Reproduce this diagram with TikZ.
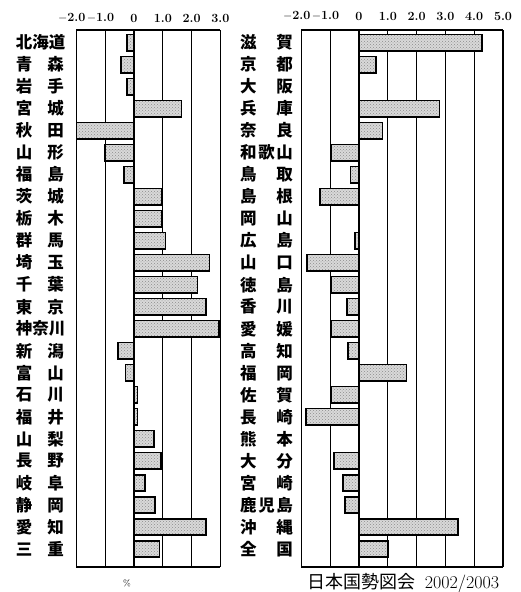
\documentclass[tikz,border=0pt]{standalone}
\usepackage{fontspec}
\newfontfamily\jpfont{Noto Sans CJK JP}
\usetikzlibrary{patterns}

\begin{document}
\begin{tikzpicture}[x=1pt, y=-1pt,
    gridline/.style={line width=1.3pt},
    zeroline/.style={line width=2.2pt},
    frameline/.style={line width=1.8pt},
    bar/.style={draw, line width=1.6pt, preaction={fill=gray!30}, pattern=crosshatch dots, pattern color=gray!90},
    pref/.style={font=\jpfont\bfseries\fontsize{16.5}{16.5}\selectfont, inner sep=0pt},
    ticklabel/.style={font=\bfseries\fontsize{12.5}{12.5}\selectfont, inner sep=0pt}]

    \useasboundingbox (0,0) rectangle (520,592);

    % left panel: grid and frame
    \foreach \v in {-2,-1,1,2,3}
        \draw[gridline] ({134+28.8*\v},30) -- ({134+28.8*\v},567);
    \draw[zeroline] (134,30) -- (134,567);
    \draw[frameline] (76,30) -- (220,30);
    \draw[frameline] (76,567) -- (220,567);
    \foreach \v/\t [count=\k] in {-2/{\llap{$-$}2.0}, -1/{\llap{$-$}1.0}, 0/0, 1/1.0, 2/2.0, 3/3.0}
        \node[ticklabel] (lt\k) at ({134+28.8*\v},18) {\t};

    % right panel: grid and frame
    \foreach \v in {-2,-1,1,2,3,4,5}
        \draw[gridline] ({359+28.8*\v},30) -- ({359+28.8*\v},567);
    \draw[zeroline] (359,30) -- (359,567);
    \draw[frameline] (301.4,30) -- (503,30);
    \draw[frameline] (301.4,567) -- (503,567);
    \foreach \v/\t [count=\k] in {-2/{\llap{$-$}2.0}, -1/{\llap{$-$}1.0}, 0/0, 1/1.0, 2/2.0, 3/3.0, 4/4.0, 5/5.0}
        \node[ticklabel] (rt\k) at ({359+28.8*\v},16) {\t};

    % left panel: prefectures and bars
    \foreach \name/\val [count=\i from 0] in {
        {北\hfill 海\hfill 道}/-0.25, {青\hfill 森}/-0.45, {岩\hfill 手}/-0.25,
        {宮\hfill 城}/1.65, {秋\hfill 田}/-2.0, {山\hfill 形}/-1.0,
        {福\hfill 島}/-0.35, {茨\hfill 城}/0.96, {栃\hfill 木}/0.96,
        {群\hfill 馬}/1.1, {埼\hfill 玉}/2.62, {千\hfill 葉}/2.2,
        {東\hfill 京}/2.5, {神\hfill 奈\hfill 川}/2.96, {新\hfill 潟}/-0.55,
        {富\hfill 山}/-0.3, {石\hfill 川}/0.12, {福\hfill 井}/0.12,
        {山\hfill 梨}/0.7, {長\hfill 野}/0.94, {岐\hfill 阜}/0.38,
        {静\hfill 岡}/0.73, {愛\hfill 知}/2.5, {三\hfill 重}/0.88} {
        \pgfmathsetmacro{\y}{42.5+22.02*\i}
        \node[pref] (lp\i) at (40,\y) {\hbox to 48pt{\name}};
        \draw[bar] (134,\y-8.2) rectangle ({134+28.8*\val},\y+8.2);
    }

    % right panel: prefectures and bars
    \foreach \name/\val [count=\i from 0] in {
        {滋\hfill 賀}/4.28, {京\hfill 都}/0.58, {大\hfill 阪}/0,
        {兵\hfill 庫}/2.8, {奈\hfill 良}/0.82, {和\hfill 歌\hfill 山}/-0.97,
        {鳥\hfill 取}/-0.29, {島\hfill 根}/-1.35, {岡\hfill 山}/0,
        {広\hfill 島}/-0.14, {山\hfill 口}/-1.8, {徳\hfill 島}/-0.98,
        {香\hfill 川}/-0.42, {愛\hfill 媛}/-0.98, {高\hfill 知}/-0.38,
        {福\hfill 岡}/1.65, {佐\hfill 賀}/-0.97, {長\hfill 崎}/-1.83,
        {熊\hfill 本}/0, {大\hfill 分}/-0.86, {宮\hfill 崎}/-0.56,
        {鹿\hfill 児\hfill 島}/-0.48, {沖\hfill 縄}/3.44, {全\hfill 国}/1.01} {
        \pgfmathsetmacro{\y}{42.5+22.02*\i}
        \node[pref] (rp\i) at (266.5,\y) {\hbox to 53pt{\name}};
        \pgfmathparse{abs(\val)>0.01 ? 1 : 0}
        \ifnum\pgfmathresult=1
            \draw[bar] (359,\y-8.2) rectangle ({359+28.8*\val},\y+8.2);
        \fi
    }

    % footer
    \node[font=\fontsize{9}{9}\selectfont] (unit) at (127,583) {\%};
    \node[font=\fontsize{18}{18}\selectfont, inner sep=0pt] (source) at (403.5,583)
        {{\jpfont 日本国勢図会}\hspace{0.5em}2002/2003};
\end{tikzpicture}
\end{document}
